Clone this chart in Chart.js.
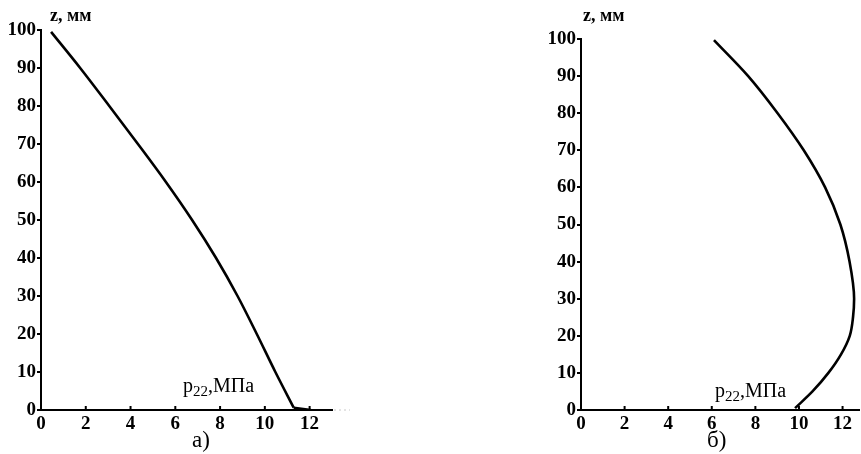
<!DOCTYPE html>
<html>
<head>
<meta charset="utf-8">
<script src="https://cdn.jsdelivr.net/npm/chart.js@4.4.1/dist/chart.umd.min.js"></script>
<style>
  body { margin: 0; background: #fff; width: 861px; height: 454px; position: relative; overflow: hidden; }
  .box { position: absolute; top: 0; width: 430px; height: 454px; }
  .lbl { position: absolute; font-family: "Liberation Serif", serif; color: #000; white-space: nowrap; }
  .zt { font-size: 18px; font-weight: bold; }
  .pt { font-size: 20px; }
  .pt sub { font-size: 15px; vertical-align: -4px; }
  .cap { font-size: 23px; }
</style>
</head>
<body>
<div class="box" style="left:0"><canvas id="chartA" width="430" height="454"></canvas></div>
<div class="box" style="left:430px"><canvas id="chartB" width="430" height="454"></canvas></div>

<div class="lbl zt" style="left:50px; top:5px">z, мм</div>
<div class="lbl zt" style="left:583px; top:5px">z, мм</div>
<div class="lbl pt" style="left:183px; top:374px">p<sub>22</sub>,МПа</div>
<div class="lbl pt" style="left:715px; top:379px">p<sub>22</sub>,МПа</div>
<div class="lbl cap" style="left:192px; top:427px">а)</div>
<div class="lbl cap" style="left:707px; top:427px">б)</div>

<script>
// а) z, мм vs p22, МПа  (last two points: short straight tail at the bottom)
const zLeft = [99.5, 90, 80, 70, 60, 50, 40, 30, 20, 10, 0.6, 0];
const pLeft = [0.45, 1.75, 3.05, 4.33, 5.58, 6.75, 7.82, 8.78, 9.64, 10.47, 11.29, 12.06];

// б)
const zRight = [99.7, 90, 80, 70, 60, 50, 40, 30, 25, 20, 15, 10, 5, 0.5];
const pRight = [6.1, 7.67, 9.02, 10.22, 11.2, 11.9, 12.32, 12.53, 12.48, 12.33, 11.93, 11.35, 10.62, 9.82];

const xTicks = [0, 2, 4, 6, 8, 10, 12];
const yTicks = [0, 10, 20, 30, 40, 50, 60, 70, 80, 90, 100];

const tickFont = { family: "Liberation Serif", size: 19, weight: "bold" };

// short tick marks pointing up into the plot from the x axis
const innerTicks = {
  id: "innerTicks",
  afterDraw(chart, args, opts) {
    const ctx = chart.ctx;
    const xs = chart.scales.x;
    const bottom = chart.chartArea.bottom;
    ctx.save();
    ctx.strokeStyle = "#000";
    ctx.lineWidth = 2;
    xTicks.forEach((v) => {
      if (v === 0) return;
      const px = xs.getPixelForValue(v);
      ctx.beginPath();
      ctx.moveTo(px, bottom);
      ctx.lineTo(px, bottom - 4);
      ctx.stroke();
    });
    if (opts.tail) {
      ctx.strokeStyle = "#c8c8c8";
      ctx.lineWidth = 1;
      ctx.setLineDash([2, 3]);
      ctx.beginPath();
      ctx.moveTo(chart.chartArea.right + 2, bottom);
      ctx.lineTo(chart.chartArea.right + opts.tail, bottom);
      ctx.stroke();
    }
    ctx.restore();
  },
};

function lineSet(zs, ps, mode) {
  return {
    data: zs.map((z, i) => ({ x: ps[i], y: z })),
    borderColor: "#000",
    borderWidth: 2.6,
    pointRadius: 0,
    cubicInterpolationMode: mode,
    tension: 0,
    fill: false,
  };
}

function makeChart(id, datasets, xMax, pad, tail) {
  return new Chart(document.getElementById(id), {
    type: "line",
    data: { datasets: datasets },
    options: {
      indexAxis: "y",
      responsive: false,
      animation: false,
      layout: { padding: pad },
      plugins: {
        legend: { display: false },
        tooltip: { enabled: false },
        innerTicks: { tail: tail },
      },
      scales: {
        x: {
          type: "linear",
          min: 0,
          max: xMax,
          afterFit: (s) => { s.height = 44; },
          afterBuildTicks: (s) => { s.ticks = xTicks.map((v) => ({ value: v })); },
          grid: { display: true, drawOnChartArea: false, drawTicks: false },
          border: { display: true, color: "#000", width: 2 },
          ticks: { color: "#000", font: tickFont, padding: 3, maxRotation: 0 },
        },
        y: {
          type: "linear",
          min: 0,
          max: 100,
          afterFit: (s) => { s.width = 41; },
          afterBuildTicks: (s) => { s.ticks = yTicks.map((v) => ({ value: v })); },
          grid: { display: true, drawOnChartArea: false, drawTicks: true, tickLength: 4, color: "#000", lineWidth: 2 },
          border: { display: true, color: "#000", width: 2 },
          ticks: { color: "#000", font: tickFont, padding: 1 },
        },
      },
    },
    plugins: [innerTicks],
  });
}

const n = zLeft.length;
makeChart("chartA", [
  lineSet(zLeft.slice(0, n - 1), pLeft.slice(0, n - 1), "monotone"),
  lineSet(zLeft.slice(n - 2), pLeft.slice(n - 2), "default"),
], 13, { left: 0, top: 30, right: 98, bottom: 0 }, 18);

makeChart("chartB", [lineSet(zRight, pRight, "monotone")],
  12.8, { left: 110, top: 39, right: 0, bottom: 0 }, 0);
</script>
</body>
</html>
